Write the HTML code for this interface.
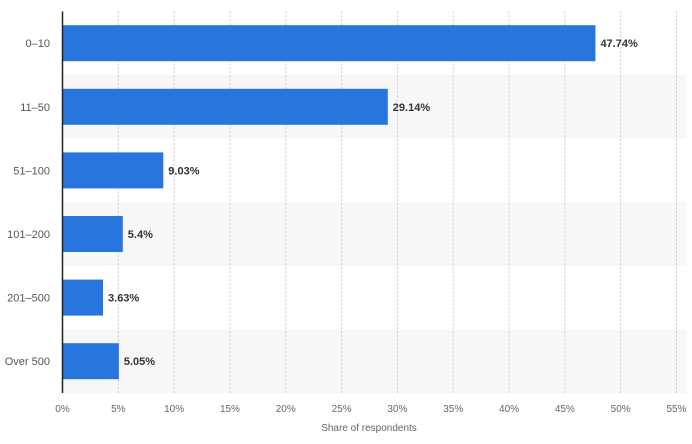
<!DOCTYPE html>
<html><head><meta charset="utf-8"><style>
body{margin:0;background:#fff;font-family:"Liberation Sans",sans-serif;}
svg text{font-family:"Liberation Sans",sans-serif;}
</style></head><body>
<svg id="c" width="692" height="439"></svg>
<script>
const categories=["0-10","11-50","51-100","101-200","201-500","Over 500"];
const values=[47.74,29.14,9.03,5.4,3.63,5.05];
const valueLabels=["47.74%","29.14%","9.03%","5.4%","3.63%","5.05%"];
const ticks=[0,5,10,15,20,25,30,35,40,45,50,55];
const NS="http://www.w3.org/2000/svg";
const svg=document.getElementById('c');
const x0=62.5,x1=676.5,yTop=11.4,bot=393,xmax=55;
const X=v=>x0+(x1-x0)*v/xmax;
const band=(bot-yTop)/categories.length;
const Y=i=>yTop+band*i;
function mk(t,a,p){const e=document.createElementNS(NS,t);for(const k in a)e.setAttribute(k,a[k]);(p||svg).appendChild(e);return e;}
categories.forEach((c,i)=>{if(i%2==1){const r=mk('rect',{x:x0,y:Y(i),width:x1-x0+10,height:band,fill:'#f7f7f7'});

}});
ticks.forEach(t=>{if(t>0){const l=mk('line',{x1:X(t),x2:X(t),y1:yTop,y2:bot,stroke:'#c8c8c8','stroke-dasharray':'2,2'});

}
const tx=mk('text',{x:X(t),y:412,'text-anchor':'middle','font-size':10,fill:'#666'});tx.textContent=t+'%';

});
categories.forEach((c,i)=>{const cy=Y(i)+band/2;
const b=mk('rect',{x:x0,y:cy-18,width:X(values[i])-x0,height:36,fill:'#2876dd'});


const l=mk('text',{x:50,y:cy+4,'text-anchor':'end','font-size':11,fill:'#555'});l.textContent=c.replace('-','–');


const v=mk('text',{x:X(values[i])+5,y:cy+4,'font-size':11,'font-weight':'bold',fill:'#333'});v.textContent=valueLabels[i];

});
const ax=mk('line',{x1:x0,x2:x0,y1:yTop,y2:bot,stroke:'#222','stroke-width':1.5});


const tt=mk('text',{x:369,y:431,'text-anchor':'middle','font-size':10,fill:'#666'});tt.textContent='Share of respondents';


</script>
</body></html>
